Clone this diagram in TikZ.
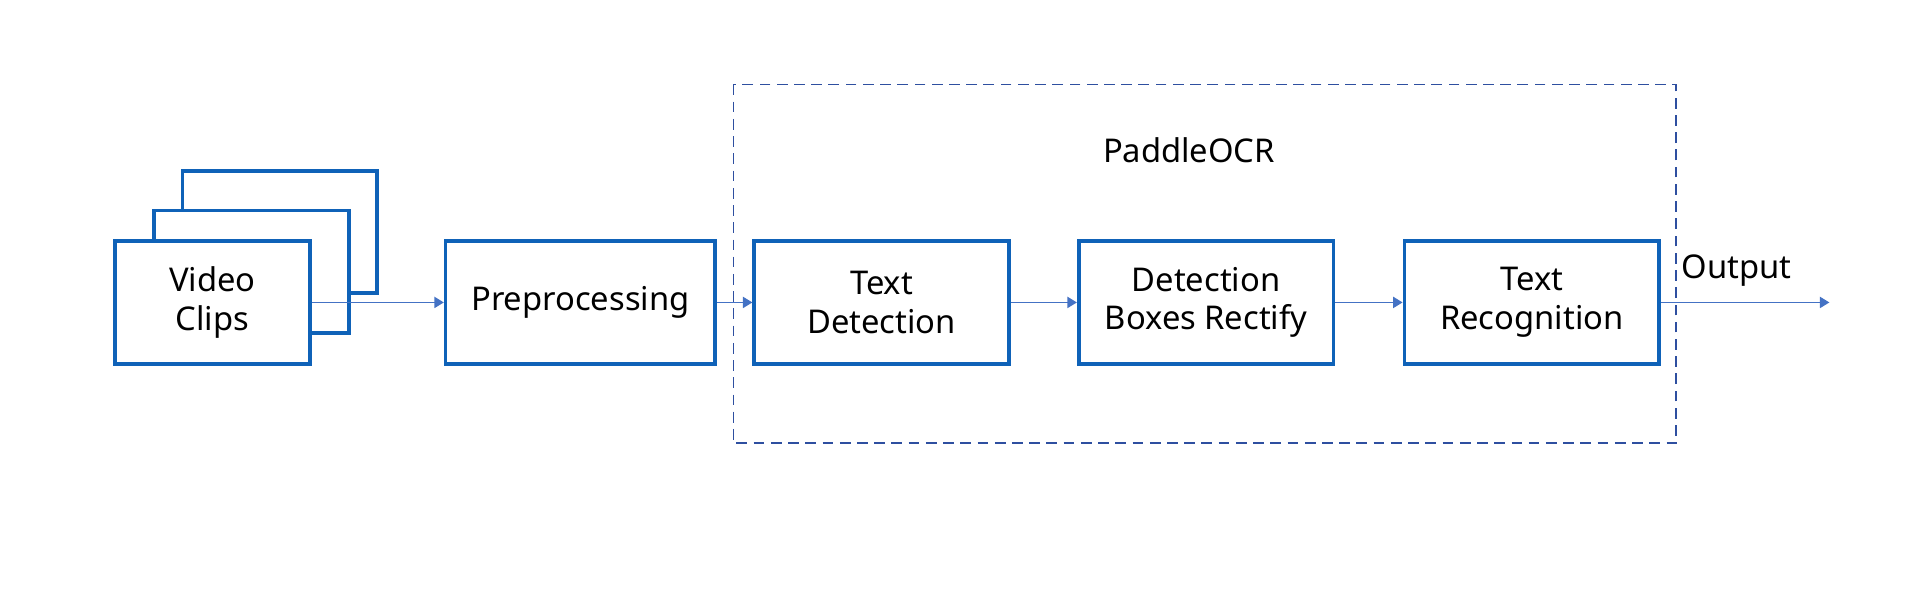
\documentclass[tikz,border=0pt]{standalone}
\usepackage{fontspec}
\setmainfont{Noto Sans}
\usetikzlibrary{arrows.meta,positioning}
\definecolor{boxblue}{HTML}{0F62B8}
\definecolor{arrowblue}{HTML}{4472C4}
\definecolor{dashblue}{HTML}{2E4FA0}
\tikzset{
	blockbox/.style={draw=boxblue,line width=0.85pt,fill=white,minimum height=1cm,inner sep=0pt,align=center,font=\fontsize{7.6}{9}\selectfont},
	flowarrow/.style={draw=arrowblue,line width=0.35pt,-{Triangle[length=2.2pt,width=2.6pt]}}
}
\begin{document}
\begin{tikzpicture}[x=0.01cm,y=-0.01cm]
	\useasboundingbox (0,0) rectangle (1568,482);
	
	% stacked clips
	\node[blockbox,minimum width=1.59cm] (clipc) at (228.5,189.5) {};
	\node[blockbox,minimum width=1.59cm] (clipb) at (205.5,222) {};
	\node[blockbox,minimum width=1.59cm] (clipa) at (173.5,247) {Video\\Clips};
	
	\node[blockbox,minimum width=2.2cm] (prep) at (474,247) {Preprocessing};
	
	% PaddleOCR
	\draw[dashblue,line width=0.45pt,dash pattern=on 2.5pt off 1.5pt] (599,69) rectangle (1369,362);
	\node[font=\fontsize{7.6}{9}\selectfont] (ocr) at (971,123) {PaddleOCR};
	
	\node[blockbox,minimum width=2.08cm] (detect) at (720,247) {Text\\Detection};
	\node[blockbox,minimum width=2.08cm] (rectify) at (985,247) {Detection\\Boxes Rectify};
	\node[blockbox,minimum width=2.08cm] (recog) at (1251,247) {Text\\Recognition};
	
	\coordinate (out) at (1494,247);
	\node[font=\fontsize{7.6}{9}\selectfont] (outlbl) at (1418,221) {Output};
	
	\draw[flowarrow] (clipa) -- (prep);
	\draw[flowarrow] (prep) -- (detect);
	\draw[flowarrow] (detect) -- (rectify);
	\draw[flowarrow] (rectify) -- (recog);
	\draw[flowarrow] (recog) -- (out);
\end{tikzpicture}
\end{document}
